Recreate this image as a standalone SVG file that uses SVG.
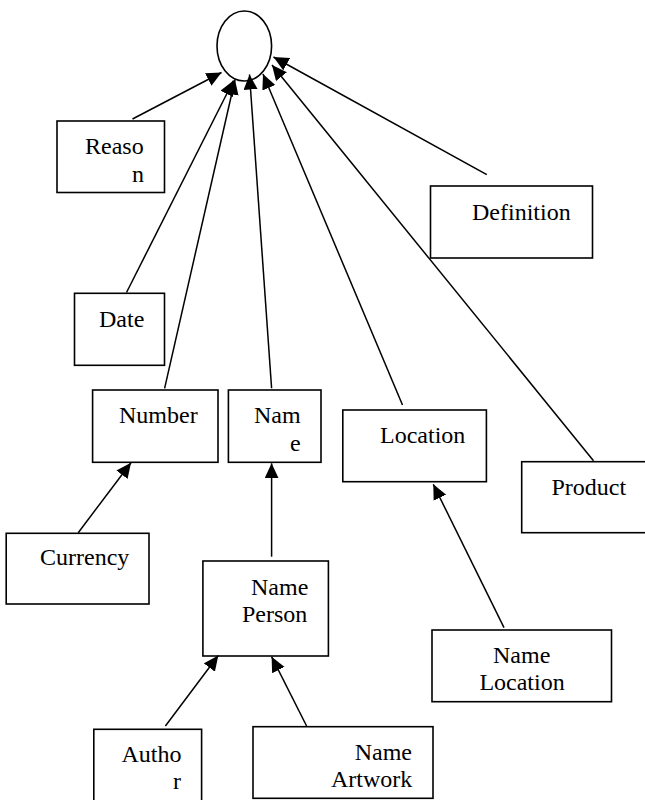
<svg xmlns="http://www.w3.org/2000/svg" width="645" height="800" viewBox="0 0 645 800">
<style>
.box{fill:#fff;stroke:#000;stroke-width:1.6}
text{font-family:'Liberation Serif','DejaVu Serif',serif;font-size:24px;fill:#000}
.edge{stroke:#000;stroke-width:1.5;fill:none;marker-end:url(#ah)}
</style>
<defs>
<marker id="ah" markerUnits="userSpaceOnUse" markerWidth="16" markerHeight="15" refX="15" refY="7" orient="auto">
<path d="M0,0 L15,7 L0,14 z" fill="#000"/>
</marker>
</defs>
<rect width="645" height="800" fill="#fff"/>
<g id="root"><ellipse cx="244.3" cy="46" rx="27.3" ry="35" class="box"/></g>
<g id="reason"><rect x="57" y="121" width="107.5" height="71.5" class="box"/><text font-family="Liberation Serif, serif" x="85" y="154">Reaso</text><text font-family="Liberation Serif, serif" x="132" y="182">n</text></g>
<g id="definition"><rect x="430.5" y="186" width="162" height="72" class="box"/><text font-family="Liberation Serif, serif" x="472" y="220">Definition</text></g>
<g id="date"><rect x="74.5" y="293.3" width="90" height="72" class="box"/><text font-family="Liberation Serif, serif" x="99" y="327">Date</text></g>
<g id="number"><rect x="92.6" y="390" width="125.4" height="72.3" class="box"/><text font-family="Liberation Serif, serif" x="119" y="423">Number</text></g>
<g id="name"><rect x="228.4" y="390" width="92.6" height="72.3" class="box"/><text font-family="Liberation Serif, serif" x="254" y="423">Nam</text><text font-family="Liberation Serif, serif" x="290" y="450.7">e</text></g>
<g id="location"><rect x="342.8" y="410" width="143.6" height="71.7" class="box"/><text font-family="Liberation Serif, serif" x="380" y="443">Location</text></g>
<g id="product"><rect x="521.7" y="461.7" width="135" height="71" class="box"/><text font-family="Liberation Serif, serif" x="551.5" y="494.5">Product</text></g>
<g id="currency"><rect x="6.2" y="533.3" width="142.8" height="70.7" class="box"/><text font-family="Liberation Serif, serif" x="40" y="565">Currency</text></g>
<g id="nameperson"><rect x="202.9" y="561" width="125.5" height="95" class="box"/><text font-family="Liberation Serif, serif" x="251" y="595">Name</text><text font-family="Liberation Serif, serif" x="242" y="621.7">Person</text></g>
<g id="namelocation"><rect x="432" y="630" width="179.5" height="71.7" class="box"/><text font-family="Liberation Serif, serif" x="493" y="663.3">Name</text><text font-family="Liberation Serif, serif" x="479.4" y="690">Location</text></g>
<g id="author"><rect x="93.8" y="729.3" width="107.8" height="75" class="box"/><text font-family="Liberation Serif, serif" x="121.4" y="761.7">Autho</text><text font-family="Liberation Serif, serif" x="173" y="789">r</text></g>
<g id="nameartwork"><rect x="253" y="726.7" width="180" height="71.6" class="box"/><text font-family="Liberation Serif, serif" x="354.7" y="760">Name</text><text font-family="Liberation Serif, serif" x="331" y="786.7">Artwork</text></g>
<g id="connectors">
<line class="edge" x1="132.5" y1="119" x2="221.5" y2="72.5"/>
<line class="edge" x1="126.5" y1="292.5" x2="233.5" y2="80.5"/>
<line class="edge" x1="164.6" y1="388.3" x2="235" y2="79.5"/>
<line class="edge" x1="271.6" y1="388.3" x2="249.5" y2="74.5"/>
<line class="edge" x1="402.5" y1="405" x2="263" y2="74"/>
<line class="edge" x1="593.5" y1="460.7" x2="272" y2="65"/>
<line class="edge" x1="486.8" y1="174.7" x2="273.5" y2="57"/>
<line class="edge" x1="78.2" y1="532.7" x2="131" y2="462.7"/>
<line class="edge" x1="271.6" y1="556.7" x2="271.6" y2="463.3"/>
<line class="edge" x1="504" y1="627.7" x2="433.3" y2="484.3"/>
<line class="edge" x1="165.4" y1="726" x2="218.3" y2="655.5"/>
<line class="edge" x1="306.6" y1="726" x2="271.6" y2="656.7"/>
</g>
</svg>
